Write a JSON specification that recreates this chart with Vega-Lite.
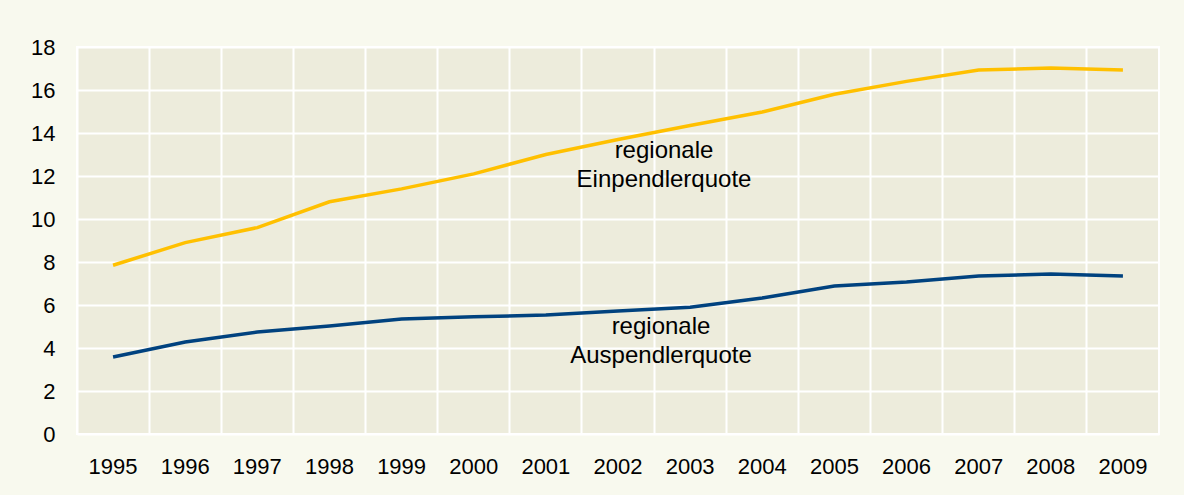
{
  "$schema": "https://vega.github.io/schema/vega-lite/v6.json",
  "width": 1082,
  "height": 387,
  "autosize": {"type": "none"},
  "padding": {"left": 77, "top": 47, "right": 25, "bottom": 61},
  "background": "#f8f9ee",
  "config": {
    "view": {"fill": "#edecdc", "stroke": "#ffffff", "strokeWidth": 2},
    "font": "Liberation Sans",
    "axis": {"labelFont": "Liberation Sans", "labelColor": "#000000", "labelFontSize": 22, "gridColor": "#ffffff", "gridWidth": 2, "gridOpacity": 1, "domain": false, "ticks": false, "title": null}
  },
  "datasets": {
    "main": [
      {"year": "1995", "series": "Einpendlerquote", "value": 7.85},
      {"year": "1996", "series": "Einpendlerquote", "value": 8.9},
      {"year": "1997", "series": "Einpendlerquote", "value": 9.6},
      {"year": "1998", "series": "Einpendlerquote", "value": 10.8},
      {"year": "1999", "series": "Einpendlerquote", "value": 11.4},
      {"year": "2000", "series": "Einpendlerquote", "value": 12.1},
      {"year": "2001", "series": "Einpendlerquote", "value": 13.0},
      {"year": "2002", "series": "Einpendlerquote", "value": 13.7},
      {"year": "2003", "series": "Einpendlerquote", "value": 14.35},
      {"year": "2004", "series": "Einpendlerquote", "value": 14.98},
      {"year": "2005", "series": "Einpendlerquote", "value": 15.8},
      {"year": "2006", "series": "Einpendlerquote", "value": 16.4},
      {"year": "2007", "series": "Einpendlerquote", "value": 16.93},
      {"year": "2008", "series": "Einpendlerquote", "value": 17.02},
      {"year": "2009", "series": "Einpendlerquote", "value": 16.93},
      {"year": "1995", "series": "Auspendlerquote", "value": 3.58},
      {"year": "1996", "series": "Auspendlerquote", "value": 4.28},
      {"year": "1997", "series": "Auspendlerquote", "value": 4.74},
      {"year": "1998", "series": "Auspendlerquote", "value": 5.02},
      {"year": "1999", "series": "Auspendlerquote", "value": 5.35},
      {"year": "2000", "series": "Auspendlerquote", "value": 5.45},
      {"year": "2001", "series": "Auspendlerquote", "value": 5.53},
      {"year": "2002", "series": "Auspendlerquote", "value": 5.72},
      {"year": "2003", "series": "Auspendlerquote", "value": 5.9},
      {"year": "2004", "series": "Auspendlerquote", "value": 6.33},
      {"year": "2005", "series": "Auspendlerquote", "value": 6.88},
      {"year": "2006", "series": "Auspendlerquote", "value": 7.07},
      {"year": "2007", "series": "Auspendlerquote", "value": 7.35},
      {"year": "2008", "series": "Auspendlerquote", "value": 7.44},
      {"year": "2009", "series": "Auspendlerquote", "value": 7.35}
    ],
    "labels": [
      {"year": "2002", "value": 12.84, "text": "regionale", "group": "ein"},
      {"year": "2002", "value": 11.49, "text": "Einpendlerquote", "group": "ein"},
      {"year": "2002", "value": 4.65, "text": "regionale", "group": "aus"},
      {"year": "2002", "value": 3.3, "text": "Auspendlerquote", "group": "aus"}
    ]
  },
  "encoding": {
    "x": {
      "field": "year",
      "type": "ordinal",
      "scale": {"type": "band", "paddingInner": 0, "paddingOuter": 0},
      "axis": {"labelAngle": 0, "labelPadding": 22, "grid": true, "bandPosition": 0}
    },
    "y": {
      "field": "value",
      "type": "quantitative",
      "scale": {"domain": [0, 18], "nice": false, "zero": true},
      "axis": {"values": [0, 2, 4, 6, 8, 10, 12, 14, 16, 18], "labelPadding": 22, "grid": true}
    }
  },
  "layer": [
    {
      "data": {"name": "main"},
      "mark": {"type": "line", "strokeWidth": 3.5},
      "encoding": {
        "color": {
          "field": "series",
          "type": "nominal",
          "scale": {"domain": ["Einpendlerquote", "Auspendlerquote"], "range": ["#ffc000", "#00427f"]},
          "legend": null
        }
      }
    },
    {
      "data": {"name": "labels"},
      "transform": [{"filter": "datum.group === 'ein'"}],
      "mark": {"type": "text", "fontSize": 24, "align": "center", "baseline": "alphabetic", "dx": 46, "color": "#000000"},
      "encoding": {"text": {"field": "text"}}
    },
    {
      "data": {"name": "labels"},
      "transform": [{"filter": "datum.group === 'aus'"}],
      "mark": {"type": "text", "fontSize": 24, "align": "center", "baseline": "alphabetic", "dx": 43, "color": "#000000"},
      "encoding": {"text": {"field": "text"}}
    }
  ]
}
